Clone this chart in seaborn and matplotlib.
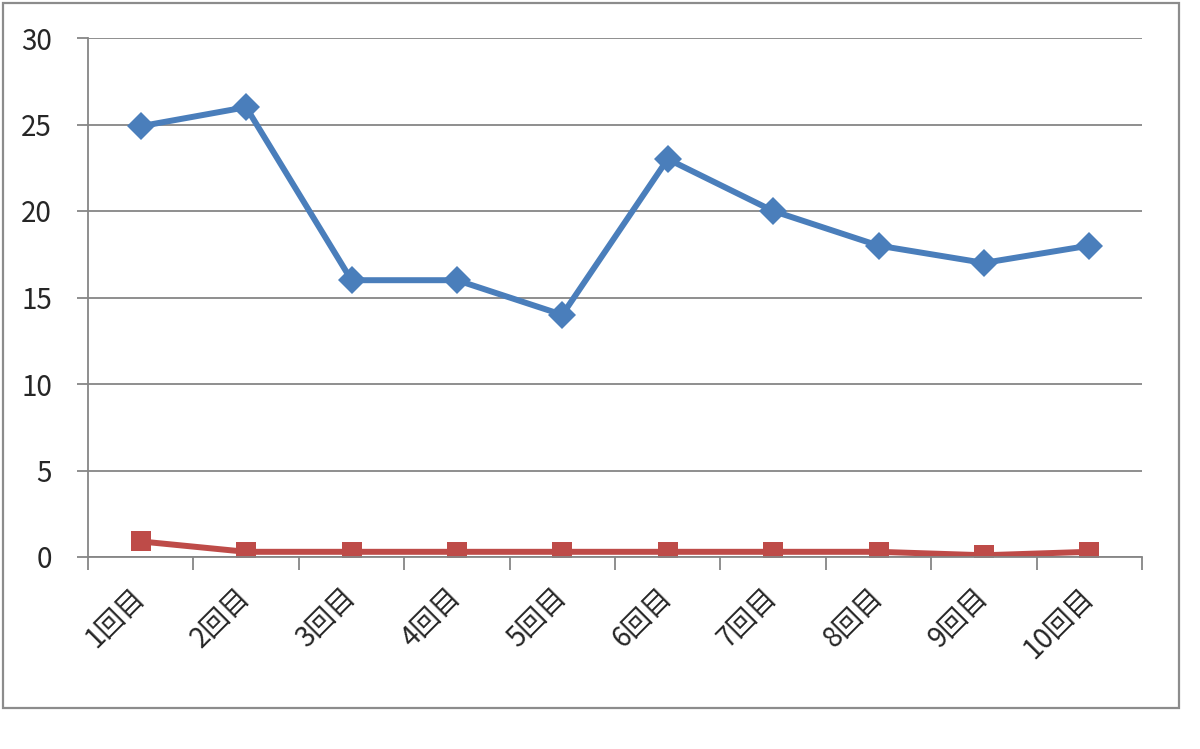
import matplotlib.pyplot as plt
import seaborn as sns
import numpy as np
from matplotlib.patches import Rectangle
from matplotlib.ticker import FixedLocator

# Dados
rodadas = ['1回目', '2回目', '3回目', '4回目', '5回目',
           '6回目', '7回目', '8回目', '9回目', '10回目']
serie_azul = [24.9, 26, 16, 16, 14, 23, 20, 18, 17, 18]
serie_vermelha = [0.9, 0.3, 0.3, 0.3, 0.3, 0.3, 0.3, 0.3, 0.1, 0.3]

sns.set_style('white')
plt.rcParams['font.family'] = ['Noto Sans CJK JP', 'DejaVu Sans']

fig = plt.figure(figsize=(12, 7.49), dpi=100)
ax = fig.add_axes([88 / 1200, 1 - 557 / 749, (1142 - 88) / 1200, (557 - 38) / 749])

cinza = '#868686'

sns.lineplot(x=rodadas, y=serie_azul, ax=ax, color='#4A7EBB', linewidth=4.3,
             marker='D', markersize=14, markeredgewidth=0, sort=False)
sns.lineplot(x=rodadas, y=serie_vermelha, ax=ax, color='#BE4B48', linewidth=4.3,
             marker='s', markersize=15, markeredgewidth=0, sort=False)

ax.set_xlim(-0.5, len(rodadas) - 0.5)
ax.set_ylim(0, 30)
ax.set_yticks(np.arange(0, 31, 5))
ax.yaxis.grid(True, color=cinza, linewidth=1.3)
ax.xaxis.grid(False)
ax.set_axisbelow(True)

# marcas entre categorias, como no Excel
ax.xaxis.set_minor_locator(FixedLocator(np.arange(-0.5, len(rodadas), 1)))
ax.tick_params(axis='x', which='major', length=0, pad=26, labelsize=20)
ax.tick_params(axis='x', which='minor', length=9, width=1.3, color=cinza, bottom=True)
ax.tick_params(axis='y', length=8, width=1.3, color=cinza, left=True, pad=18, labelsize=20)
plt.setp(ax.get_xticklabels(), rotation=45, ha='right', va='center', rotation_mode='anchor')

for lado in ['top', 'right']:
    ax.spines[lado].set_visible(False)
for lado in ['left', 'bottom']:
    ax.spines[lado].set_color(cinza)
    ax.spines[lado].set_linewidth(1.3)

ax.set_xlabel('')
ax.set_ylabel('')

# moldura externa do gráfico
fig.patches.append(Rectangle((3 / 1200, 1 - 708 / 749), (1179 - 3) / 1200, (708 - 3) / 749,
                             transform=fig.transFigure, fill=False,
                             edgecolor='#8c8c8c', linewidth=1.6))

fig.savefig('out.png', dpi=100, facecolor='white')
